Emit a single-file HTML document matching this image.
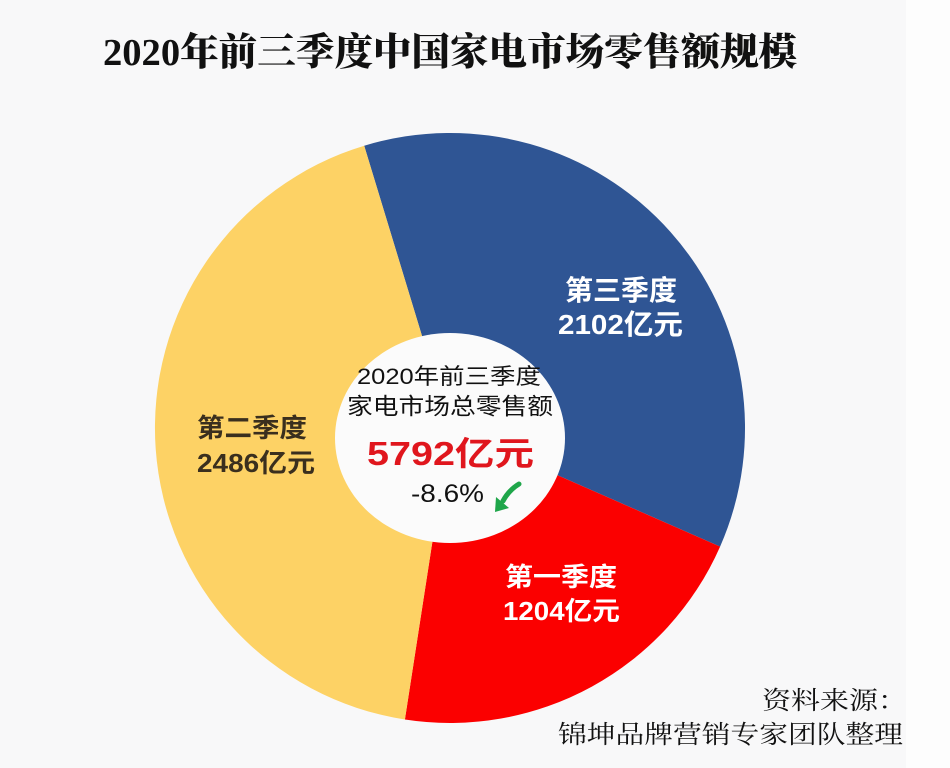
<!DOCTYPE html>
<html>
<head>
<meta charset="utf-8">
<style>
  html,body{margin:0;padding:0;background:#f8f8f9;}
  svg{display:block;}
</style>
</head>
<body>
<svg width="950" height="768" viewBox="0 0 950 768" xmlns="http://www.w3.org/2000/svg">
  <rect x="0" y="0" width="950" height="768" fill="#f8f8f9"/>
  <rect x="906" y="0" width="44" height="768" fill="#fdfdfd"/>

  <!-- Title -->
  <text x="103" y="65" font-family="'Liberation Serif','Noto Serif CJK SC',serif" font-weight="900" font-size="38" fill="#111" textLength="694" lengthAdjust="spacingAndGlyphs">2020年前三季度中国家电市场零售额规模</text>

  <!-- Donut slices: center (450,428), r=295 -->
  <!-- Q3 blue -->
  <path d="M450,428 L364.2,145.7 A295,295 0 0 1 720.1,546.6 Z" fill="#2f5594"/>
  <!-- Q1 red -->
  <path d="M450,428 L720.1,546.6 A295,295 0 0 1 404.9,719.5 Z" fill="#fb0000"/>
  <!-- Q2 yellow -->
  <path d="M450,428 L404.9,719.5 A295,295 0 0 1 364.2,145.7 Z" fill="#fdd265"/>

  <!-- Center white circle -->
  <ellipse cx="450" cy="438" rx="115" ry="105" fill="#fbfbfb"/>

  <!-- Center text -->
  <text x="357" y="384" font-family="'Liberation Sans','Noto Sans CJK SC',sans-serif" font-size="22" fill="#111" textLength="184" lengthAdjust="spacingAndGlyphs">2020年前三季度</text>
  <text x="347" y="414" font-family="'Liberation Sans','Noto Sans CJK SC',sans-serif" font-size="23" fill="#111" textLength="206" lengthAdjust="spacingAndGlyphs">家电市场总零售额</text>
  <text x="367" y="465" font-family="'Liberation Sans','Noto Sans CJK SC',sans-serif" font-weight="bold" font-size="33" fill="#e0161d" textLength="167" lengthAdjust="spacingAndGlyphs">5792亿元</text>
  <text x="411" y="502" font-family="'Liberation Sans','Noto Sans CJK SC',sans-serif" font-size="25" fill="#111" textLength="73" lengthAdjust="spacingAndGlyphs">-8.6%</text>

  <!-- Green arrow -->
  <path d="M519,484 Q509,490 503,501" stroke="#1fa64a" stroke-width="5" fill="none" stroke-linecap="round"/>
  <polygon points="495,512 496,497 509,508" fill="#1fa64a"/>

  <!-- Q3 label -->
  <text x="565" y="300" font-family="'Liberation Sans','Noto Sans CJK SC',sans-serif" font-weight="bold" font-size="28" fill="#ffffff" textLength="112" lengthAdjust="spacingAndGlyphs">第三季度</text>
  <text x="558" y="334" font-family="'Liberation Sans','Noto Sans CJK SC',sans-serif" font-weight="bold" font-size="28" fill="#ffffff" textLength="125" lengthAdjust="spacingAndGlyphs">2102亿元</text>

  <!-- Q2 label -->
  <text x="197" y="437" font-family="'Liberation Sans','Noto Sans CJK SC',sans-serif" font-weight="bold" font-size="26" fill="#3a2f1e" textLength="110" lengthAdjust="spacingAndGlyphs">第二季度</text>
  <text x="197" y="472" font-family="'Liberation Sans','Noto Sans CJK SC',sans-serif" font-weight="bold" font-size="26" fill="#3a2f1e" textLength="118" lengthAdjust="spacingAndGlyphs">2486亿元</text>

  <!-- Q1 label -->
  <text x="505" y="586" font-family="'Liberation Sans','Noto Sans CJK SC',sans-serif" font-weight="bold" font-size="26" fill="#ffffff" textLength="112" lengthAdjust="spacingAndGlyphs">第一季度</text>
  <text x="503" y="620" font-family="'Liberation Sans','Noto Sans CJK SC',sans-serif" font-weight="bold" font-size="26" fill="#ffffff" textLength="117" lengthAdjust="spacingAndGlyphs">1204亿元</text>

  <!-- Source -->
  <text x="762" y="709" font-family="'Liberation Serif','Noto Serif CJK SC',serif" font-size="25" fill="#111" textLength="145" lengthAdjust="spacingAndGlyphs">资料来源：</text>
  <text x="558" y="743" font-family="'Liberation Serif','Noto Serif CJK SC',serif" font-size="25" fill="#111" textLength="345" lengthAdjust="spacingAndGlyphs">锦坤品牌营销专家团队整理</text>
</svg>
</body>
</html>
